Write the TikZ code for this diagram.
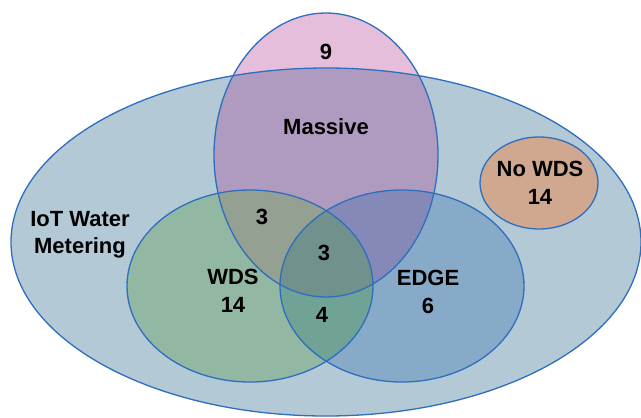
\documentclass[tikz,border=0pt]{standalone}
\usepackage{fontspec}
\setmainfont{Liberation Sans}

\definecolor{iotfill}{RGB}{179,201,214}
\definecolor{massout}{RGB}{228,190,218}
\definecolor{massin}{RGB}{176,155,192}
\definecolor{wdsfill}{RGB}{146,184,163}
\definecolor{edgefill}{RGB}{135,170,200}
\definecolor{wmfill}{RGB}{148,160,145}
\definecolor{mefill}{RGB}{133,137,184}
\definecolor{wefill}{RGB}{112,162,150}
\definecolor{wmefill}{RGB}{112,145,140}
\definecolor{nowdsfill}{RGB}{208,168,144}
\definecolor{setline}{RGB}{46,110,190}

\def\setiot{(326,242) ellipse [x radius=315pt, y radius=174pt]}
\def\setmass{(326,155) ellipse [x radius=112pt, y radius=142pt]}
\def\setwds{(250,286) ellipse [x radius=123pt, y radius=96pt]}
\def\setedge{(402,286) ellipse [x radius=122pt, y radius=96pt]}
\def\setnowds{(539,183) ellipse [x radius=59pt, y radius=46pt]}

\begin{document}
\begin{tikzpicture}[x=1pt,y=-1pt,
    setedge/.style={draw=setline,line width=1.3pt},
    lbl/.style={font=\fontsize{22}{27.5}\selectfont\bfseries,align=center,inner sep=0pt}]
    \useasboundingbox (0,0) rectangle (641,418);
    % fills
    \fill[iotfill] \setiot;
    \fill[massout] \setmass;
    \begin{scope}
        \clip \setiot;
        \fill[massin] \setmass;
    \end{scope}
    \fill[wdsfill] \setwds;
    \fill[edgefill] \setedge;
    \begin{scope}
        \clip \setmass;
        \fill[wmfill] \setwds;
        \fill[mefill] \setedge;
    \end{scope}
    \begin{scope}
        \clip \setwds;
        \fill[wefill] \setedge;
        \clip \setedge;
        \fill[wmefill] \setmass;
    \end{scope}
    \fill[nowdsfill] \setnowds;
    % outlines
    \draw[setedge] \setiot;
    \draw[setedge] \setmass;
    \draw[setedge] \setwds;
    \draw[setedge] \setedge;
    \draw[setedge] \setnowds;
    % labels
    \node[lbl] (n9) at (326,52) {9};
    \node[lbl] (massive) at (326,127) {Massive};
    \node[lbl] (nowds) at (540,183) {No WDS\\14};
    \node[lbl] (iot) at (80,235) {IoT Water\\Metering};
    \node[lbl] (wm) at (262,217) {3};
    \node[lbl] (wme) at (324,253) {3};
    \node[lbl] (wds) at (233,291) {WDS\\14};
    \node[lbl] (edge) at (428,292) {EDGE\\6};
    \node[lbl] (we) at (322,315) {4};
\end{tikzpicture}
\end{document}
